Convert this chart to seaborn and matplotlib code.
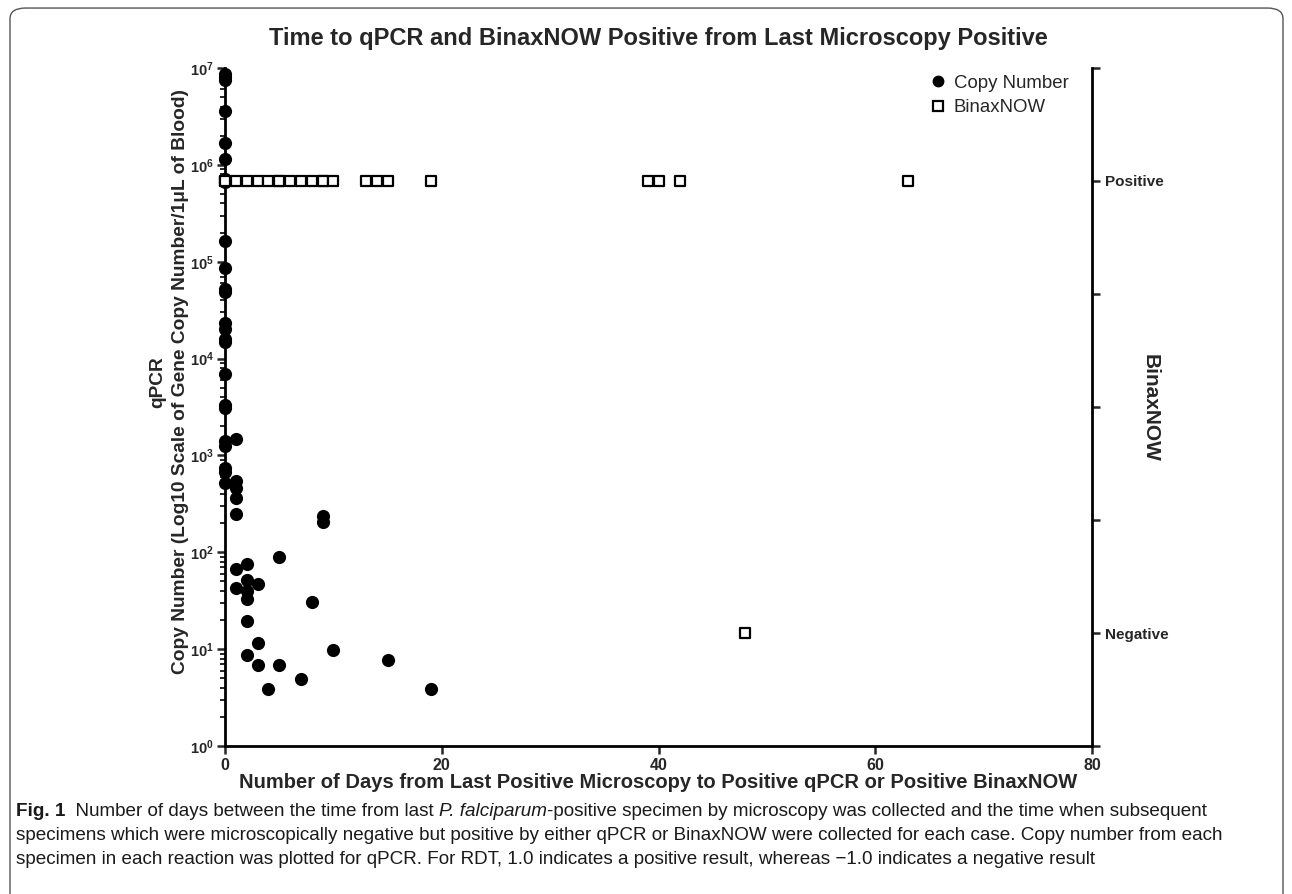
import numpy as np
import pandas as pd
import matplotlib
matplotlib.use("Agg")
import matplotlib.pyplot as plt
import seaborn as sns
from matplotlib.lines import Line2D
from matplotlib.patches import FancyBboxPatch
from matplotlib.ticker import FuncFormatter, NullLocator

# qPCR copy number (per 1 uL blood) vs days since last positive microscopy
copy_days = [0, 0, 0, 0, 0, 0, 0, 0, 0, 0, 0, 0, 0, 0, 0, 0, 0, 0, 0, 0, 0, 0, 0, 0,
             1, 1, 1, 1, 1, 1, 1,
             2, 2, 2, 2, 2, 2,
             3, 3, 3,
             4,
             5, 5,
             7, 8, 9, 9, 10, 15, 19]
copy_values = [8.7e6, 8.1e6, 7.6e6, 3.6e6, 1.7e6, 1.15e6, 7.2e5, 6.6e5, 1.65e5, 8.6e4,
               5.2e4, 4.9e4, 2.35e4, 2.0e4, 1.6e4, 1.5e4, 6.9e3, 3.3e3, 3.1e3, 1.4e3,
               1.25e3, 740, 680, 525,
               1480, 550, 460, 366, 250, 68, 43,
               76, 52, 40, 33, 19.5, 8.8,
               47, 11.7, 6.9,
               3.9,
               90, 6.9,
               4.9, 31, 235, 207, 9.7, 7.8, 3.9]

# BinaxNOW result: 1 = positive, -1 = negative
binax_days = [0, 0, 1, 2, 3, 4, 5, 5, 6, 7, 8, 9, 9, 10, 13, 14, 15, 19, 39, 40, 42, 63, 48]
binax_result = [1] * 22 + [-1]

right_ticks = [-1.5, -1.0, -0.5, 0.0, 0.5, 1.0, 1.5]
right_labels = ["", "Negative", "", "", "", "Positive", ""]

copy_df = pd.DataFrame({"days": copy_days, "copies": copy_values})
binax_df = pd.DataFrame({"days": binax_days, "result": binax_result})

sns.set_theme(style="ticks")
plt.rcParams['font.family'] = ['Liberation Sans', 'DejaVu Sans']
plt.rcParams['font.weight'] = 'bold'
plt.rcParams['mathtext.fontset'] = 'custom'
plt.rcParams['mathtext.bf'] = 'Liberation Sans:bold'
plt.rcParams['mathtext.rm'] = 'Liberation Sans:bold'

W, H = 1292, 894
fig = plt.figure(figsize=(W / 100, H / 100), dpi=100)
fig.patch.set_facecolor('white')
ax = fig.add_axes([225 / W, 148 / H, 867 / W, 678 / H])

sns.scatterplot(data=copy_df, x="days", y="copies", ax=ax, color="black", marker="o",
                s=90, linewidth=0, clip_on=False, legend=False, zorder=3)
ax.set_yscale("log")
ax.set_ylim(1, 1e7)
ax.set_xlim(0, 80)
ax.set_xticks([0, 20, 40, 60, 80])
ax.xaxis.set_minor_locator(NullLocator())
ax.yaxis.set_major_formatter(FuncFormatter(lambda v, p: r"$\mathbf{10^{%d}}$" % round(np.log10(v))))
ax.set_xlabel("")
ax.set_ylabel("")

ax2 = ax.twinx()
sns.scatterplot(data=binax_df, x="days", y="result", ax=ax2, color="white", edgecolor="black",
                marker="s", s=55, linewidth=1.6, clip_on=False, legend=False, zorder=4)
ax2.set_ylim(-1.5, 1.5)
ax2.set_yticks(right_ticks)
ax2.set_yticklabels(right_labels)
ax2.set_ylabel("")

for a in (ax, ax2):
    a.spines['top'].set_visible(False)
    for s in a.spines.values():
        s.set_linewidth(2)
        s.set_color('black')
ax2.spines['left'].set_visible(False)
ax2.spines['bottom'].set_visible(False)
ax.spines['right'].set_visible(False)

ax.tick_params(axis='x', which='major', direction='out', length=6, width=1.8, labelsize=11.5, pad=3)
ax.tick_params(axis='y', which='major', direction='out', length=6, width=1.8, labelsize=10.5, pad=2)
ax.tick_params(axis='y', which='minor', direction='out', length=3.5, width=1.4)
ax2.tick_params(axis='y', which='major', direction='out', length=6, width=1.8, labelsize=11, pad=3)

# legend
handles = [Line2D([], [], marker='o', color='black', linestyle='', markersize=7.5),
           Line2D([], [], marker='s', markerfacecolor='white', markeredgecolor='black',
                  markeredgewidth=1.6, linestyle='', markersize=6.5)]
ax2.legend(handles, ["Copy Number", "BinaxNOW"], loc='upper left', bbox_to_anchor=(0.79, 1.015),
           frameon=False, prop={'size': 13.4, 'weight': 'normal'}, handletextpad=0.25,
           labelspacing=0.4, handlelength=1.2)

# titles and axis labels
fig.text(658.5 / W, 1 - 38 / H, "Time to qPCR and BinaxNOW Positive from Last Microscopy Positive",
         ha='center', va='center', fontsize=17, weight='bold')
fig.text(658.5 / W, 1 - 783 / H,
         "Number of Days from Last Positive Microscopy to Positive qPCR or Positive BinaxNOW",
         ha='center', va='center', fontsize=14.5, weight='bold')
fig.text(169 / W, 1 - 382 / H, "qPCR\nCopy Number (Log10 Scale of Gene Copy Number/1\u03bcL of Blood)",
         ha='center', va='center', rotation=90, fontsize=13.8, weight='bold',
         multialignment='center', linespacing=1.5)
fig.text(1150 / W, 1 - 408 / H, "BinaxNOW", ha='center', va='center', rotation=270,
         fontsize=15, weight='bold')

# figure frame
frame = FancyBboxPatch((10 / W, -0.05), (1283 - 10) / W, 0.991 + 0.05,
                       boxstyle="round,pad=0,rounding_size=0.012", transform=fig.transFigure,
                       fill=False, edgecolor='#555555', linewidth=1.0)
fig.add_artist(frame)

# caption
cap_family = ['Liberation Sans', 'DejaVu Sans']
caption_lines = [
    [("Fig. 1", 'bold', 'normal'), ("  Number of days between the time from last ", 'normal', 'normal'),
     ("P. falciparum", 'normal', 'italic'),
     ("-positive specimen by microscopy was collected and the time when subsequent", 'normal', 'normal')],
    [("specimens which were microscopically negative but positive by either qPCR or BinaxNOW were collected for each case. Copy number from each", 'normal', 'normal')],
    [("specimen in each reaction was plotted for qPCR. For RDT, 1.0 indicates a positive result, whereas \u22121.0 indicates a negative result", 'normal', 'normal')],
]
renderer = fig.canvas.get_renderer()
inv = fig.transFigure.inverted()
for i, segs in enumerate(caption_lines):
    x = 16 / W
    y = 1 - (812 + 24 * i) / H
    for txt, wt, st in segs:
        t = fig.text(x, y, txt, ha='left', va='center', fontsize=13.6, family=cap_family,
                     weight=wt, style=st, color='#1a1a1a')
        bb = t.get_window_extent(renderer)
        x = inv.transform((bb.x1, bb.y0))[0]

fig.savefig("out.png", dpi=100)
